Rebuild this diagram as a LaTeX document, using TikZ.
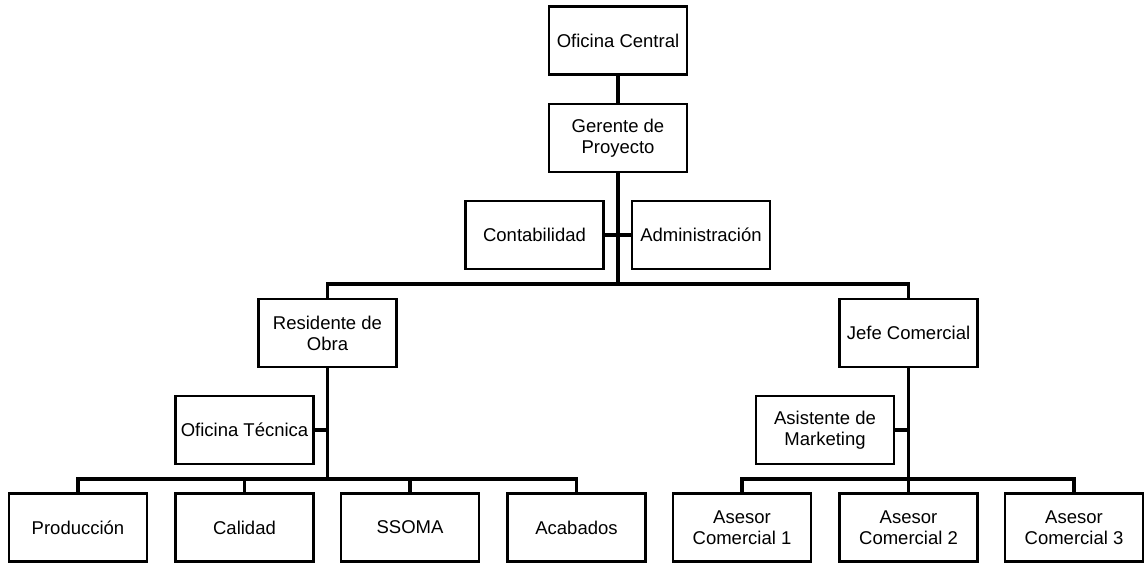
\documentclass[tikz,border=0pt]{standalone}
\usepackage{fontspec}
\setmainfont{Liberation Sans}
\begin{document}
\begin{tikzpicture}[x=1pt,y=-1pt,
  box/.style={draw=black,line width=2.2pt,fill=white,rectangle,minimum width=138pt,minimum height=68pt,inner sep=2pt,align=center,font=\fontsize{18.5}{21}\selectfont},
  conn/.style={draw=black,line width=3.2pt,line join=miter}]
\useasboundingbox (0,0) rectangle (1147,562);
\node[box] (oc) at (618,40.5) {Oficina Central};
\node[box] (gp) at (618,138) {Gerente de\\Proyecto};
\node[box] (cont) at (534.5,235) {Contabilidad};
\node[box] (admin) at (701,235) {Administración};
\node[box] (res) at (327.5,333) {Residente de\\Obra};
\node[box] (jefe) at (908.5,333) {Jefe Comercial};
\node[box] (ot) at (244.5,430) {Oficina Técnica};
\node[box] (asis) at (825,430) {Asistente de\\Marketing};
\node[box] (prod) at (78,527.5) {Producción};
\node[box] (cal) at (244.5,527.5) {Calidad};
\node[box] (ssoma) at (410,527.5) {SSOMA};
\node[box] (acab) at (576.5,527.5) {Acabados};
\node[box] (a1) at (742,527.5) {Asesor\\Comercial 1};
\node[box] (a2) at (908.5,527.5) {Asesor\\Comercial 2};
\node[box] (a3) at (1074,527.5) {Asesor\\Comercial 3};
\coordinate (b1) at (618,284);
\coordinate (b2) at (327.5,479);
\coordinate (b3) at (908.5,479);
\draw[conn] (oc.south) -- (gp.north);
\draw[conn] (gp.south) -- (b1);
\draw[conn] (cont.east) -- (admin.west);
\draw[conn] (res.north) |- (b1) -| (jefe.north);
\draw[conn] (res.south) -- (b2);
\draw[conn] (ot.east) -- (ot.east -| res.south);
\draw[conn] (prod.north) |- (b2) -| (acab.north);
\draw[conn] (cal.north) -- (cal.north |- b2);
\draw[conn] (ssoma.north) -- (ssoma.north |- b2);
\draw[conn] (jefe.south) -- (a2.north);
\draw[conn] (asis.east) -- (asis.east -| jefe.south);
\draw[conn] (a1.north) |- (b3) -| (a3.north);
\end{tikzpicture}
\end{document}
